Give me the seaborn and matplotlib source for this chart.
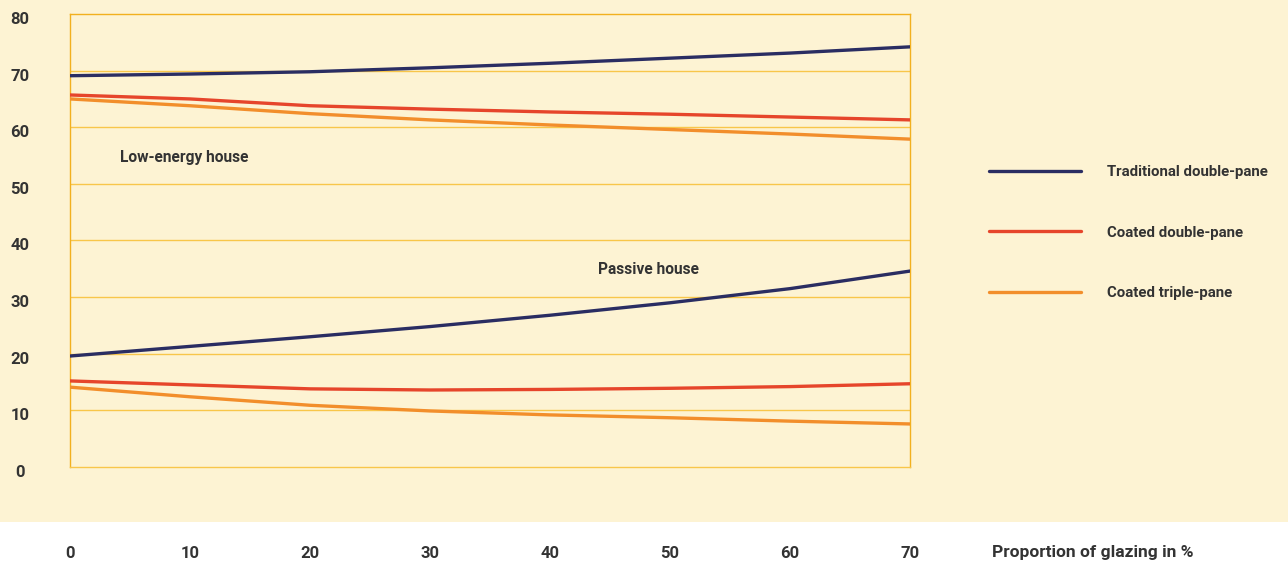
import matplotlib
matplotlib.use("Agg")
import matplotlib.pyplot as plt
import matplotlib.transforms as mtransforms
import seaborn as sns
import pandas as pd
from matplotlib.patches import Rectangle

# ---- data ----
glazing = [0, 10, 20, 30, 40, 50, 60, 70]
low_traditional = [69.1, 69.4, 69.8, 70.5, 71.3, 72.2, 73.1, 74.2]
low_coated_double = [65.7, 65.0, 63.8, 63.2, 62.7, 62.3, 61.8, 61.3]
low_coated_triple = [65.0, 63.8, 62.4, 61.3, 60.4, 59.6, 58.8, 57.9]
pas_traditional = [19.6, 21.3, 23.0, 24.8, 26.8, 29.0, 31.5, 34.6]
pas_coated_double = [15.2, 14.5, 13.8, 13.6, 13.7, 13.9, 14.2, 14.7]
pas_coated_triple = [14.1, 12.4, 10.9, 9.9, 9.2, 8.7, 8.1, 7.6]
series_names = ["Traditional double-pane", "Coated double-pane", "Coated triple-pane"]
x_ticks = [0, 10, 20, 30, 40, 50, 60, 70]
y_ticks = [0, 10, 20, 30, 40, 50, 60, 70, 80]

rows = []
for house, vals in [("Low-energy house", [low_traditional, low_coated_double, low_coated_triple]),
                    ("Passive house", [pas_traditional, pas_coated_double, pas_coated_triple])]:
    for name, v in zip(series_names, vals):
        for g, val in zip(glazing, v):
            rows.append({"house": house, "type": name, "glazing": g, "value": val})
df = pd.DataFrame(rows)

CREAM = "#FDF3D3"
GRID = "#F8C64A"
AXC = "#F2B01E"
TXT = "#333333"
palette = {"Traditional double-pane": "#2A2D62",
           "Coated double-pane": "#E6452B",
           "Coated triple-pane": "#F28E2B"}

sns.set_theme(style="white")
plt.rcParams["font.family"] = ["Roboto", "DejaVu Sans"]
FS = 12.0
LFS = 10.8

W, H = 1288, 565
fig = plt.figure(figsize=(W / 100, H / 100), dpi=100, facecolor="white")
fig.patches.append(Rectangle((0, (565 - 522) / H), 1, 522 / H, transform=fig.transFigure,
                             facecolor=CREAM, edgecolor="none", zorder=-10))
ax = fig.add_axes([70 / W, (565 - 467) / H, 840 / W, 453 / H])
ax.set_facecolor(CREAM)

for i, house in enumerate(["Low-energy house", "Passive house"]):
    sub = df[df["house"] == house]
    sns.lineplot(data=sub, x="glazing", y="value", hue="type", palette=palette,
                 hue_order=series_names, linewidth=2.4, ax=ax, legend=(i == 0),
                 zorder=3)

ax.set_xlim(0, 70)
ax.set_ylim(0, 80)
ax.set_xticks(x_ticks)
ax.set_yticks(y_ticks)
ax.set_xlabel("")
ax.set_ylabel("")
for yv in y_ticks[1:-1]:
    ax.axhline(yv, color=GRID, linewidth=1.0, zorder=1)
for s in ["left", "right", "top", "bottom"]:
    ax.spines[s].set_color(AXC)
    ax.spines[s].set_linewidth(1.0)
ax.spines["bottom"].set_color(GRID)

ax.tick_params(axis="both", length=0, labelsize=FS, labelcolor=TXT)
ax.tick_params(axis="x", pad=57)
ax.tick_params(axis="y", pad=36)
shift = mtransforms.ScaledTranslation(0, -4 / 100, fig.dpi_scale_trans)
for lab in ax.get_xticklabels() + ax.get_yticklabels():
    lab.set_fontweight("bold")
for lab in ax.get_yticklabels():
    lab.set_horizontalalignment("center")
    lab.set_transform(lab.get_transform() + shift)

ax.text(4.2, 54.6, "Low-energy house", fontsize=LFS + 0.4, fontweight="bold", color=TXT,
        va="center", ha="left")
ax.text(44.0, 34.8, "Passive house", fontsize=LFS + 0.4, fontweight="bold", color=TXT,
        va="center", ha="left")

handles, labels = ax.get_legend_handles_labels()
ax.get_legend().remove()
fpx = LFS * 100 / 72
leg = fig.legend(handles, labels, loc="upper left", bbox_to_anchor=(989 / W, 1 - 165 / H),
                 frameon=False, fontsize=LFS, handlelength=92 / fpx, handletextpad=26 / fpx,
                 labelspacing=(61.5 - fpx) / fpx, borderaxespad=0, borderpad=0)
for t in leg.get_texts():
    t.set_fontweight("bold")
    t.set_color(TXT)
for l in leg.get_lines():
    l.set_linewidth(2.4)

fig.text(992 / W, 1 - 553 / H, "Proportion of glazing in %", fontsize=FS + 0.5, fontweight="bold",
         color=TXT, va="center", ha="left")

fig.savefig("out.png", dpi=100, facecolor="white")
